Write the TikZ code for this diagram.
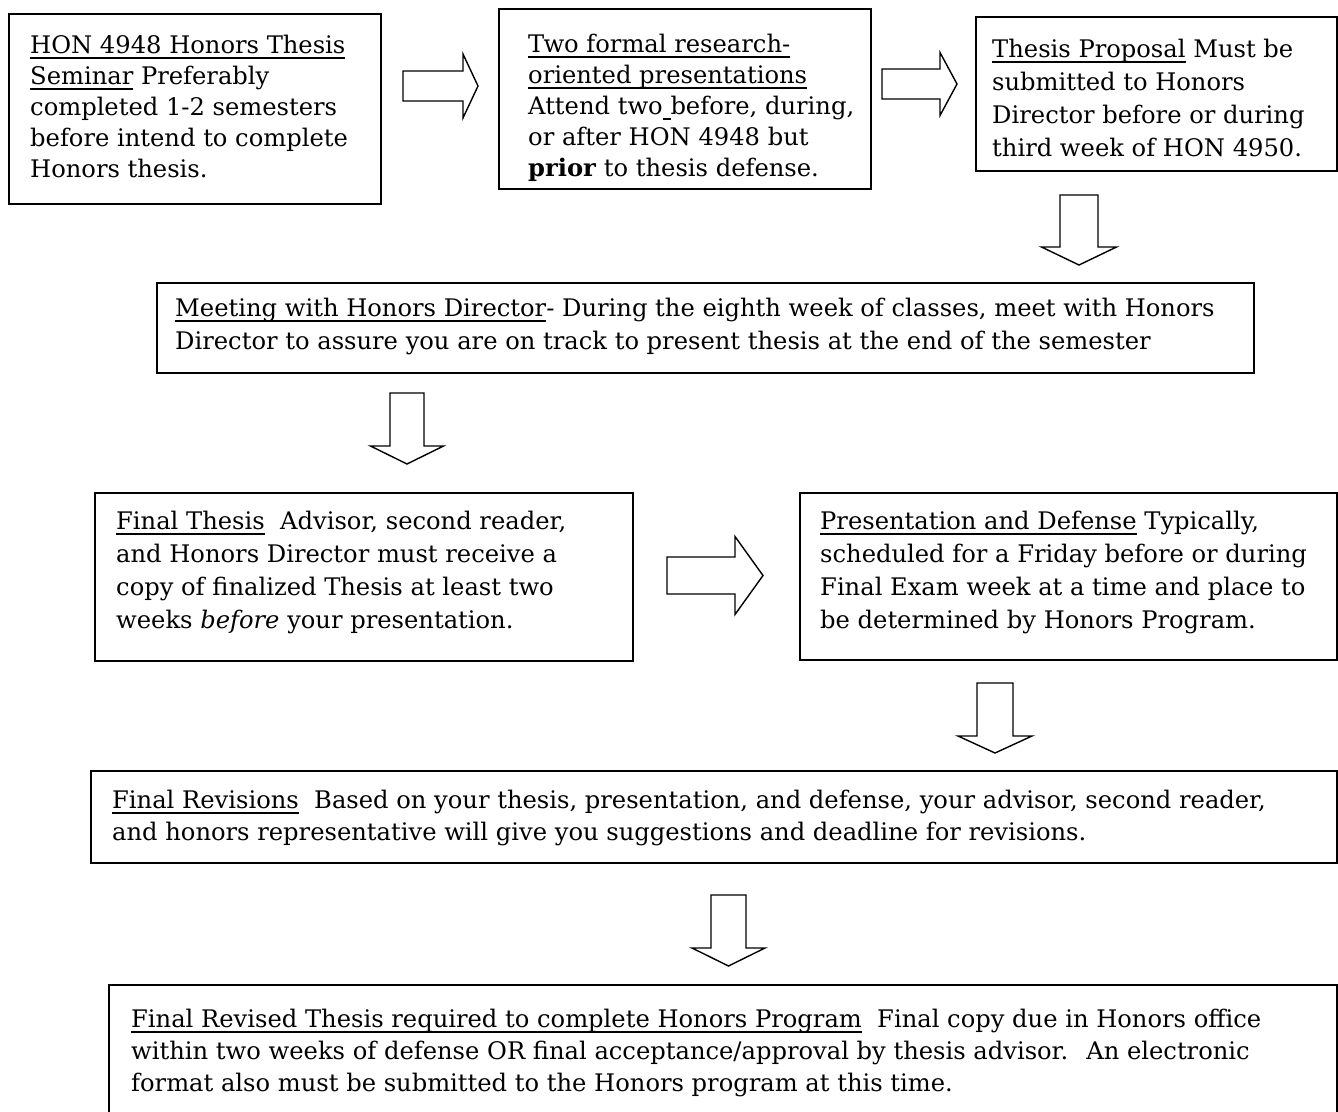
\documentclass[tikz,border=0pt]{standalone}
\usepackage{fontspec}
\setmainfont{DejaVu Serif}
\newcommand\ulx[1]{\setbox0\hbox{#1}\rlap{\rule[-5.5pt]{\wd0}{1.1pt}}\box0\relax}
\tikzset{
  box/.style={draw, line width=1.8pt, inner sep=0pt, anchor=north west},
  txt/.style={anchor=base west, inner sep=0pt, font=\fontsize{24.2}{#1}\selectfont},
  arr/.style={draw, line width=1.4pt, line join=miter, fill=white},
  pics/rarrow/.style args={#1/#2/#3/#4}{code={
    \path[arr] (0,-#2) -- (#1,-#2) -- (#1,-#4) -- (#1+#3,0) -- (#1,#4) -- (#1,#2) -- (0,#2) -- cycle;}},
  pics/darrow/.style args={#1/#2/#3/#4}{code={
    \path[arr] (-#2,0) -- (-#2,#1) -- (-#4,#1) -- (0,#1+#3) -- (#4,#1) -- (#2,#1) -- (#2,0) -- cycle;}}
}
\begin{document}
\begin{tikzpicture}[x=1pt,y=-1pt]
\useasboundingbox (0,0) rectangle (1338,1111);
% boxes
\node (b1) [box, minimum width=372, minimum height=190] at (8,13) {};
\node (b2) [box, minimum width=372, minimum height=180] at (498,8) {};
\node (b3) [box, minimum width=361, minimum height=154] at (975,16) {};
\node (b4) [box, minimum width=1097, minimum height=90] at (156,282) {};
\node (b5) [box, minimum width=538, minimum height=168] at (94,492) {};
\node (b6) [box, minimum width=537, minimum height=167] at (799,492) {};
\node (b7) [box, minimum width=1246, minimum height=92] at (90,770) {};
\node (b8) [box, minimum width=1228, minimum height=140] at (108,984) {};
% texts
\node (t1) [txt=31] at (30,53) {\begin{tabular}[t]{@{}l@{}}
\ulx{HON 4948 Honors Thesis}\\
\ulx{Seminar} Preferably\\
completed 1-2 semesters\\
before intend to complete\\
Honors thesis.
\end{tabular}};
\node (t2) [txt=31] at (528,52) {\begin{tabular}[t]{@{}l@{}}
\ulx{Two formal research-}\\
\ulx{oriented presentations}\\
Attend two\ulx{ }before, during,\\
or after HON 4948 but\\
\textbf{prior} to thesis defense.
\end{tabular}};
\node (t3) [txt=33] at (992,57) {\begin{tabular}[t]{@{}l@{}}
\ulx{Thesis Proposal} Must be\\
submitted to Honors\\
Director before or during\\
third week of HON 4950.
\end{tabular}};
\node (t4) [txt=33] at (175,316) {\begin{tabular}[t]{@{}l@{}}
\ulx{Meeting with Honors Director}- During the eighth week of classes, meet with Honors\\
Director to assure you are on track to present thesis at the end of the semester
\end{tabular}};
\node (t5) [txt=33] at (116,529) {\begin{tabular}[t]{@{}l@{}}
\ulx{Final Thesis}~ Advisor, second reader,\\
and Honors Director must receive a\\
copy of finalized Thesis at least two\\
weeks \textit{before} your presentation.
\end{tabular}};
\node (t6) [txt=33] at (820,529) {\begin{tabular}[t]{@{}l@{}}
\ulx{Presentation and Defense} Typically,\\
scheduled for a Friday before or during\\
Final Exam week at a time and place to\\
be determined by Honors Program.
\end{tabular}};
\node (t7) [txt=32] at (112,808) {\begin{tabular}[t]{@{}l@{}}
\ulx{Final Revisions}~ Based on your thesis, presentation, and defense, your advisor, second reader,\\
and honors representative will give you suggestions and deadline for revisions.
\end{tabular}};
\node (t8) [txt=32] at (131,1027) {\begin{tabular}[t]{@{}l@{}}
\ulx{Final Revised Thesis required to complete Honors Program}~ Final copy due in Honors office\\
within two weeks of defense OR final acceptance/approval by thesis advisor.~ An electronic\\
format also must be submitted to the Honors program at this time.
\end{tabular}};
% block arrows
\pic at (403,86) {rarrow=60/15/15/32};
\pic at (882,84) {rarrow=58/15/17/31.5};
\pic at (667,575.5) {rarrow=68/18.5/28/39};
\pic at (1079,195) {darrow=52/19/18/37.5};
\pic at (407,393) {darrow=53/17/18/36.5};
\pic at (995,683) {darrow=53/18/17/37};
\pic at (728.5,895) {darrow=53/17.5/18/36.5};
\end{tikzpicture}
\end{document}
